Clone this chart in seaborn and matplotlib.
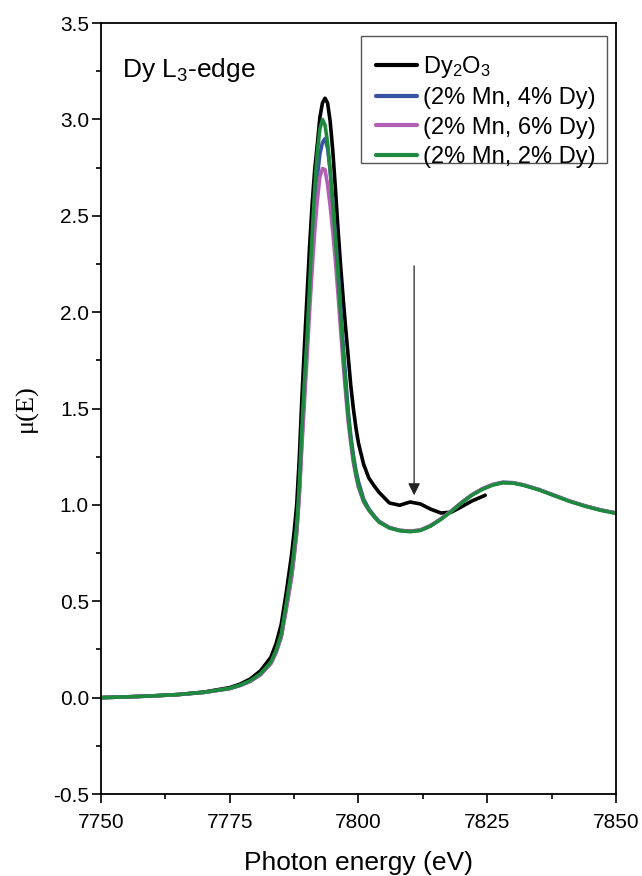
import matplotlib
matplotlib.use("Agg")
import matplotlib.pyplot as plt
import seaborn as sns
import pandas as pd
from matplotlib.patches import Rectangle
from matplotlib.ticker import MultipleLocator, FormatStrFormatter

# ---------------- data ----------------
energy_ref = [7750, 7755, 7760, 7765, 7770, 7775, 7777, 7779, 7781, 7783, 7784, 7785, 7786,
              7787, 7787.5, 7788, 7788.5, 7789, 7789.5, 7790, 7790.5, 7791, 7791.5, 7792,
              7792.5, 7793, 7793.5, 7794, 7794.5, 7795, 7795.5, 7796, 7796.5, 7797, 7797.5,
              7798, 7798.5, 7799, 7799.5, 7800,
              7801, 7802, 7803, 7804, 7806, 7808, 7810, 7812, 7814, 7816, 7818, 7820, 7822, 7824.6]
mu_dy2o3 = [0.000, 0.004, 0.009, 0.016, 0.029, 0.052, 0.070, 0.097, 0.140, 0.210, 0.280, 0.380, 0.550,
            0.740, 0.860, 1.000, 1.240, 1.550, 1.820, 2.080, 2.340, 2.560, 2.740, 2.870,
            3.010, 3.085, 3.110, 3.085, 2.990, 2.840, 2.650, 2.440, 2.250, 2.080, 1.920,
            1.770, 1.620, 1.500, 1.400, 1.320,
            1.210, 1.140, 1.100, 1.065, 1.010, 0.998, 1.015, 1.005, 0.978, 0.958, 0.962, 0.990, 1.020, 1.050]

energy = [7750, 7755, 7760, 7765, 7770, 7775, 7777, 7779, 7781, 7783, 7784, 7785, 7786,
          7787, 7787.5, 7788, 7788.5, 7789, 7789.5, 7790, 7790.5, 7791, 7791.5, 7792,
          7792.5, 7793, 7793.5, 7794, 7794.5, 7795, 7795.5, 7796, 7796.5, 7797, 7797.5,
          7798, 7798.5, 7799, 7799.5, 7800,
          7801, 7802, 7803, 7804, 7806, 7808, 7810, 7812, 7814, 7816, 7818, 7820, 7822, 7824,
          7826, 7828, 7830, 7832, 7835, 7838, 7841, 7844, 7847, 7850]
mu_mn2_dy4 = [0.000, 0.004, 0.009, 0.016, 0.027, 0.047, 0.063, 0.085, 0.120, 0.178, 0.235, 0.315, 0.470,
              0.630, 0.740, 0.860, 1.060, 1.330, 1.580, 1.820, 2.080, 2.330, 2.540, 2.700,
              2.820, 2.880, 2.900, 2.850, 2.730, 2.580, 2.410, 2.240, 2.040, 1.840, 1.660,
              1.490, 1.360, 1.260, 1.180, 1.120,
              1.030, 0.980, 0.945, 0.915, 0.883, 0.868, 0.863, 0.869, 0.892, 0.927, 0.967, 1.012, 1.052, 1.083,
              1.105, 1.117, 1.115, 1.104, 1.080, 1.050, 1.020, 0.995, 0.974, 0.958]
mu_mn2_dy6 = [0.000, 0.004, 0.009, 0.016, 0.027, 0.047, 0.063, 0.085, 0.120, 0.178, 0.235, 0.315, 0.460,
              0.620, 0.730, 0.850, 1.040, 1.300, 1.530, 1.760, 2.000, 2.220, 2.420, 2.580,
              2.700, 2.745, 2.740, 2.660, 2.550, 2.420, 2.270, 2.100, 1.920, 1.740, 1.580,
              1.430, 1.320, 1.220, 1.150, 1.090,
              1.015, 0.972, 0.940, 0.912, 0.882, 0.868, 0.864, 0.870, 0.893, 0.928, 0.968, 1.012, 1.052, 1.083,
              1.105, 1.117, 1.115, 1.104, 1.080, 1.050, 1.020, 0.995, 0.974, 0.958]
mu_mn2_dy2 = [0.000, 0.004, 0.009, 0.016, 0.028, 0.048, 0.065, 0.088, 0.125, 0.185, 0.245, 0.330, 0.490,
              0.660, 0.770, 0.890, 1.100, 1.390, 1.640, 1.860, 2.130, 2.400, 2.640, 2.830,
              2.950, 3.000, 2.970, 2.880, 2.740, 2.560, 2.380, 2.200, 2.000, 1.800, 1.620,
              1.460, 1.340, 1.240, 1.160, 1.100,
              1.020, 0.975, 0.940, 0.910, 0.880, 0.866, 0.861, 0.867, 0.890, 0.925, 0.965, 1.010, 1.050, 1.080,
              1.102, 1.115, 1.113, 1.102, 1.078, 1.048, 1.018, 0.993, 0.972, 0.956]

series_labels = ["Dy$_2$O$_3$", "(2% Mn, 4% Dy)", "(2% Mn, 6% Dy)", "(2% Mn, 2% Dy)"]
series_colors = ["#000000", "#3953a4", "#b35fb3", "#1d8a3e"]

x_ticks = [7750, 7775, 7800, 7825, 7850]
y_ticks = [-0.5, 0.0, 0.5, 1.0, 1.5, 2.0, 2.5, 3.0, 3.5]

arrow_x = 7810.8
arrow_y_start = 2.24
arrow_y_end = 1.05

# ---------------- build frame ----------------
frames = [
    pd.DataFrame({"E": energy_ref, "mu": mu_dy2o3, "sample": series_labels[0]}),
    pd.DataFrame({"E": energy, "mu": mu_mn2_dy4, "sample": series_labels[1]}),
    pd.DataFrame({"E": energy, "mu": mu_mn2_dy6, "sample": series_labels[2]}),
    pd.DataFrame({"E": energy, "mu": mu_mn2_dy2, "sample": series_labels[3]}),
]
df = pd.concat(frames, ignore_index=True)

# ---------------- style ----------------
sns.set_style("ticks")
plt.rcParams["font.family"] = ["Liberation Sans", "DejaVu Sans"]
plt.rcParams["mathtext.fontset"] = "custom"
plt.rcParams["mathtext.rm"] = "Liberation Sans"
plt.rcParams["mathtext.it"] = "Liberation Sans:italic"
plt.rcParams["mathtext.bf"] = "Liberation Sans:bold"
for k in ["text.color", "axes.labelcolor", "xtick.color", "ytick.color", "axes.edgecolor"]:
    plt.rcParams[k] = "black"

fig = plt.figure(figsize=(6.42, 8.76), dpi=100)
ax = fig.add_axes([0.1573, 0.0936, 0.8022, 0.8801])

sns.lineplot(data=df, x="E", y="mu", hue="sample", hue_order=series_labels,
             palette=series_colors, linewidth=2.6, sort=True, estimator=None,
             ax=ax, legend=False)

ax.set_xlim(x_ticks[0], x_ticks[-1])
ax.set_ylim(y_ticks[0], y_ticks[-1])
ax.set_xticks(x_ticks)
ax.set_yticks(y_ticks)
ax.xaxis.set_minor_locator(MultipleLocator(12.5))
ax.yaxis.set_minor_locator(MultipleLocator(0.25))
ax.yaxis.set_major_formatter(FormatStrFormatter("%.1f"))
ax.tick_params(which="major", direction="out", length=6.7, width=1.2, labelsize=15,
               top=False, right=False)
ax.tick_params(which="minor", direction="out", length=3.8, width=1.2,
               top=False, right=False)
ax.tick_params(axis="x", which="major", pad=7)
ax.tick_params(axis="y", which="major", pad=2)
for s in ax.spines.values():
    s.set_visible(True)
    s.set_linewidth(1.3)
    s.set_color("black")

ax.set_xlabel("Photon energy (eV)", fontsize=19, labelpad=14)
ax.set_ylabel("μ(E)", fontsize=19, family=["Liberation Serif", "DejaVu Serif"], labelpad=11)

ax.text(0.041, 0.939, "Dy L$_3$-edge", transform=ax.transAxes, fontsize=19,
        ha="left", va="center")

ax.annotate("", xy=(arrow_x, arrow_y_end), xytext=(arrow_x, arrow_y_start),
            arrowprops=dict(arrowstyle="-|>", color="#222222", lw=0.9,
                            mutation_scale=18, shrinkA=0, shrinkB=0))

# legend frame drawn separately, legend entries without frame
ax.add_patch(Rectangle((0.505, 0.818), 0.478, 0.165, transform=ax.transAxes,
                       facecolor="white", edgecolor="#555555", lw=1.0, zorder=4))
handles = [plt.Line2D([], [], color=c, lw=3.0) for c in series_colors]
leg = ax.legend(handles, series_labels, loc="upper left", bbox_to_anchor=(0.534, 0.960),
                fontsize=17, frameon=False,
                handlelength=1.75, handletextpad=0.25, labelspacing=0.31,
                borderpad=0.0, borderaxespad=0.0)
leg.set_zorder(5)

fig.savefig("out.png", dpi=100)
